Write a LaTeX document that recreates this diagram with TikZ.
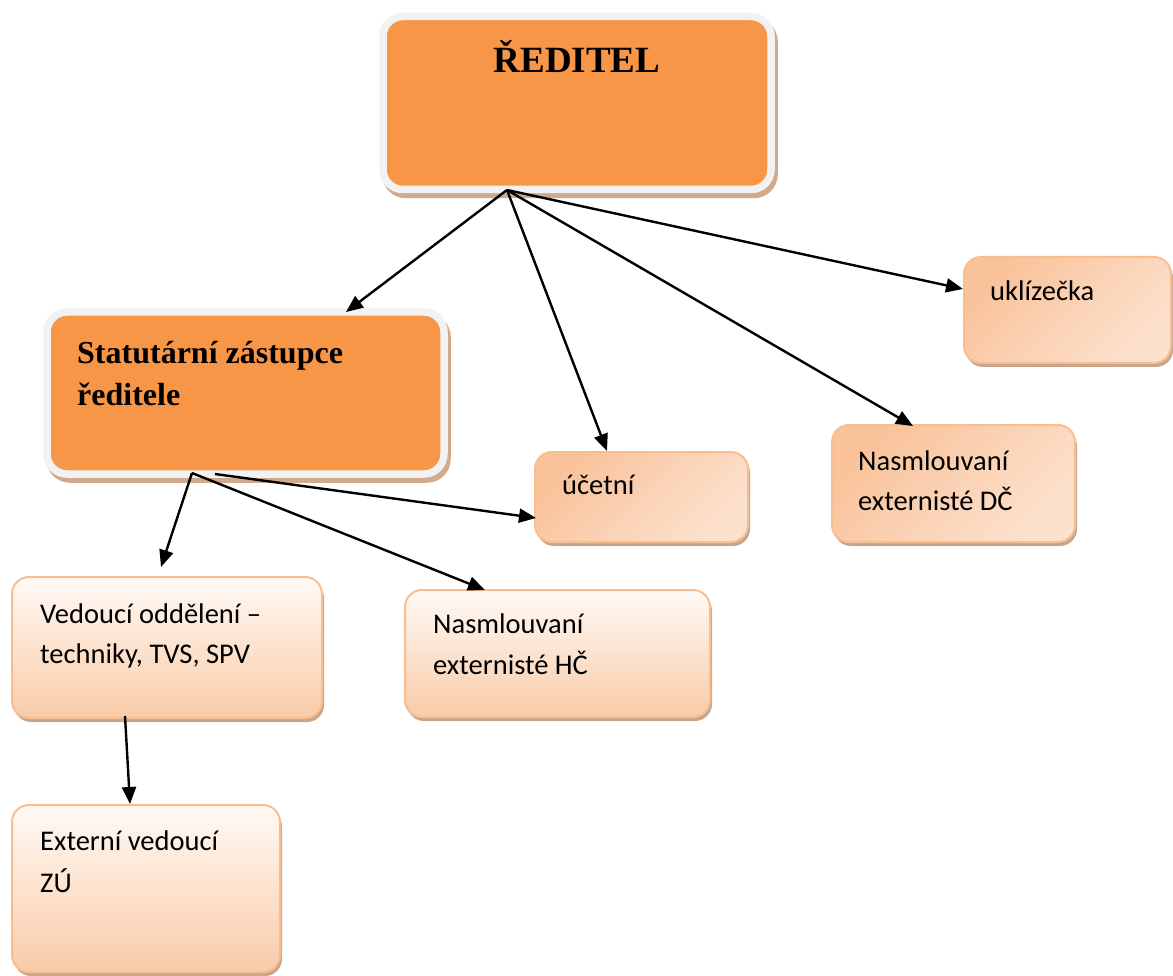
\documentclass[tikz,border=0pt]{standalone}
\usepackage{fontspec}
\setmainfont{Liberation Serif}
\newfontfamily\calib{Carlito}
\usetikzlibrary{arrows.meta}
\definecolor{orng}{HTML}{F79646}
\definecolor{framec}{HTML}{F2F2F2}
\definecolor{tanc}{HTML}{D3A98B}
\definecolor{peach}{HTML}{F9C29A}
\definecolor{peachb}{HTML}{F9BE90}
\definecolor{lightp}{HTML}{FDE9DA}
\definecolor{toppale}{HTML}{FFFAF6}
\definecolor{botpeach}{HTML}{F9CBA7}
\definecolor{lshadow}{HTML}{C8A68E}
\newcommand{\twol}[3]{\vtop{\baselineskip=#3\lineskiplimit=-100pt\hbox{#1}\hbox{#2}}}
\tikzset{
  obox/.style={anchor=north west, inner sep=0pt, outer sep=0pt, rounded corners=20pt,
    draw=framec, line width=7.5pt, fill=orng,
    preaction={draw=tanc, fill=tanc, line width=7.5pt, transform canvas={shift={(3pt,-5pt)}}}},
  gbox/.style={anchor=north west, inner sep=0pt, outer sep=0pt, rounded corners=17pt,
    draw=peachb, line width=2pt,
    preaction={fill=lshadow, transform canvas={shift={(2pt,-4pt)}}}},
  vgrad/.style={gbox, top color=toppale, bottom color=botpeach},
  dgrad/.style={gbox, left color=peach, middle color=lightp, right color=lightp!80!peach, shading angle=45},
  btxt/.style={font=\bfseries\fontsize{32}{38}\selectfont, anchor=base west, inner sep=0pt},
  ctxt/.style={font=\calib\fontsize{28.5}{34}\selectfont, anchor=base west, inner sep=0pt},
  arr/.style={-{Triangle[length=17pt,width=14pt]}, line width=2.4pt, black}
}
\begin{document}
\begin{tikzpicture}[x=1pt,y=-1pt]
\useasboundingbox (0,0) rectangle (1173,976);
% boxes
\node[obox, minimum width=388pt, minimum height=173pt] (dir) at (383,16.5) {};
\node[obox, minimum width=397pt, minimum height=162pt] (stat) at (47,312) {};
\node[dgrad, minimum width=207pt, minimum height=106pt] (ukl) at (964,257) {};
\node[dgrad, minimum width=213pt, minimum height=90pt] (ucet) at (535,452) {};
\node[dgrad, minimum width=243pt, minimum height=117pt] (dc) at (832,425) {};
\node[vgrad, minimum width=305pt, minimum height=127pt] (hc) at (405,590) {};
\node[vgrad, minimum width=310pt, minimum height=141pt] (ved) at (12,577) {};
\node[vgrad, minimum width=268pt, minimum height=167pt] (ext) at (12,805) {};
% texts
\node[font=\bfseries\fontsize{37}{44}\selectfont, anchor=base, inner sep=0pt] (tdir) at (577,73) {ŘEDITEL};
\node[btxt] (tstat) at (77,363) {\twol{Statutární zástupce}{ředitele}{42pt}};
\node[ctxt] (tukl) at (990,301) {uklízečka};
\node[ctxt] (tucet) at (562,494) {účetní};
\node[ctxt] (tdc) at (858,470) {\twol{Nasmlouvaní}{externisté DČ}{40pt}};
\node[ctxt] (thc) at (433,633) {\twol{Nasmlouvaní}{externisté HČ}{41pt}};
\node[ctxt] (tved) at (40,623) {\twol{Vedoucí oddělení –}{techniky, TVS, SPV}{40pt}};
\node[ctxt] (text) at (40,850) {\twol{Externí vedoucí}{ZÚ}{42pt}};
% connector points
\coordinate (d0) at (507,190);
\coordinate (s0) at (192,473);
\coordinate (s1) at (215,474);
\coordinate (v0) at (125,716);
\coordinate (tS) at (346,312);
\coordinate (tU) at (607,451);
\coordinate (tD) at (913,426);
\coordinate (tK) at (963,289);
\coordinate (tV) at (161,567);
\coordinate (tH) at (485,590);
\coordinate (tU2) at (536,518);
\coordinate (tE) at (130,804);
\draw[arr] (d0) -- (tS);
\draw[arr] (d0) -- (tU);
\draw[arr] (d0) -- (tD);
\draw[arr] (d0) -- (tK);
\draw[arr] (s0) -- (tV);
\draw[arr] (s0) -- (tH);
\draw[arr] (s1) -- (tU2);
\draw[arr] (v0) -- (tE);
\end{tikzpicture}
\end{document}
